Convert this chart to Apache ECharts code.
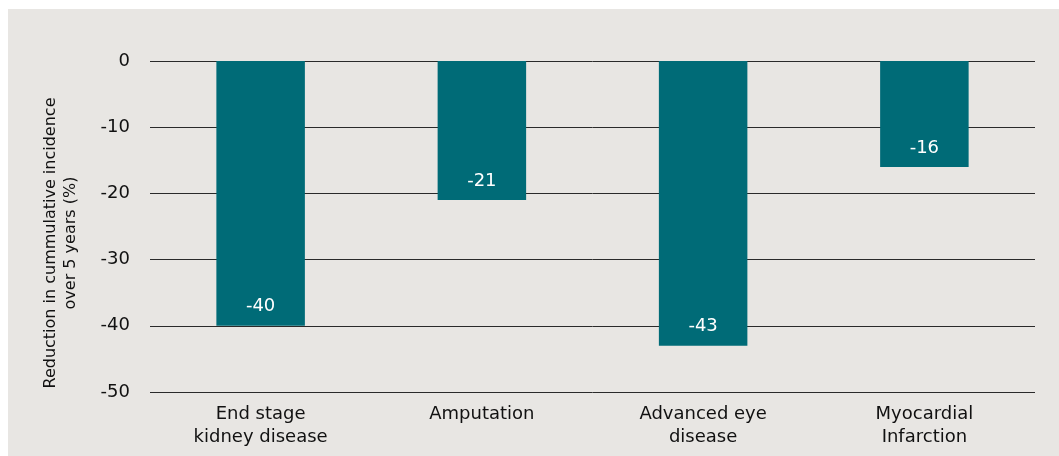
<!DOCTYPE html>
<html>
<head>
<meta charset="utf-8">
<script src="https://cdn.jsdelivr.net/npm/echarts@6/dist/echarts.min.js"></script>
<style>
html,body{margin:0;padding:0;background:#ffffff;}
#chart{position:absolute;left:8px;top:9px;width:1051px;height:447px;}
</style>
</head>
<body>
<div id="chart"></div>
<script>
const categories = ['End stage\nkidney disease', 'Amputation', 'Advanced eye\ndisease', 'Myocardial\nInfarction'];
const values = [-40, -21, -43, -16];
const yTicks = [0, -10, -20, -30, -40, -50];
const yAxisTitle = 'Reduction in cummulative incidence\nover 5 years (%)';

const FONT = '"DejaVu Sans", sans-serif';
const chart = echarts.init(document.getElementById('chart'));
chart.setOption({
  backgroundColor: '#e8e6e3',
  animation: false,
  textStyle: {fontFamily: FONT},
  grid: {left: 142, right: 24, top: 52, bottom: 64},
  xAxis: {
    type: 'category',
    data: categories,
    axisLine: {show: false, onZero: false},
    axisTick: {show: false},
    axisLabel: {color: '#111', fontSize: 18, lineHeight: 23, margin: 11, fontFamily: FONT}
  },
  yAxis: {
    type: 'value',
    min: Math.min(...yTicks),
    max: Math.max(...yTicks),
    interval: 10,
    axisLine: {show: false},
    axisTick: {show: false},
    axisLabel: {color: '#111', fontSize: 18, margin: 20, fontFamily: FONT},
    splitLine: {lineStyle: {color: '#2a2a2a', width: 1}}
  },
  graphic: [{
    type: 'text',
    rotation: Math.PI / 2,
    x: 53, y: 234,
    style: {
      text: yAxisTitle,
      fill: '#111',
      font: '16px "DejaVu Sans", sans-serif',
      textAlign: 'center',
      textVerticalAlign: 'middle',
      lineHeight: 20
    }
  }],
  series: [{
    type: 'bar',
    data: values,
    barWidth: '40%',
    itemStyle: {color: '#006b77'},
    label: {
      show: true,
      position: 'insideBottom',
      distance: 10,
      color: '#ffffff',
      fontSize: 18,
      fontFamily: FONT
    }
  }]
});
</script>
</body>
</html>
